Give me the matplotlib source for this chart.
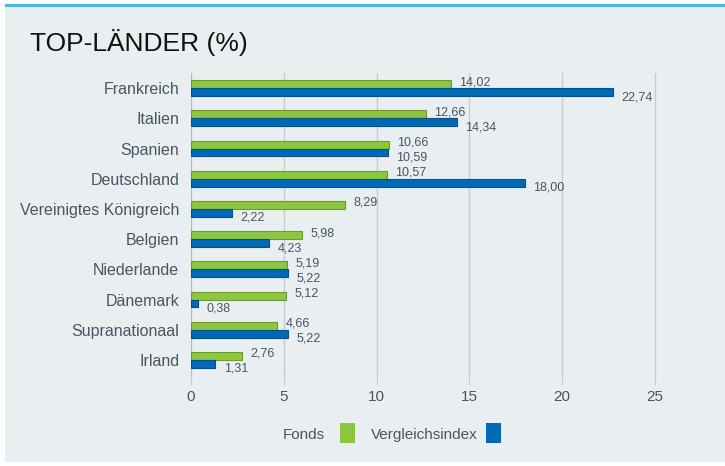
"""
Top-Laender: Fonds vs. Vergleichsindex, horizontal grouped bars
"""
import matplotlib
matplotlib.use('Agg')
import matplotlib.pyplot as plt
from matplotlib.patches import Rectangle
import numpy as np

countries = ['Frankreich', 'Italien', 'Spanien', 'Deutschland', 'Vereinigtes Königreich',
             'Belgien', 'Niederlande', 'Dänemark', 'Supranationaal', 'Irland']
fonds = [14.02, 12.66, 10.66, 10.57, 8.29, 5.98, 5.19, 5.12, 4.66, 2.76]
index = [22.74, 14.34, 10.59, 18.00, 2.22, 4.23, 5.22, 0.38, 5.22, 1.31]
xticks = [0, 5, 10, 15, 20, 25]

plt.rcParams['font.family'] = ['Liberation Sans', 'DejaVu Sans']
txt_col = '#4a5562'
green, green_edge = '#8dc63f', '#6b9b2e'
blue, blue_edge = '#0069b4', '#00508c'

fig = plt.figure(figsize=(7.25, 4.66), dpi=100)
# panel background and top rule
fig.patches.append(Rectangle((5 / 725, 4 / 466), 720 / 725, 455 / 466, transform=fig.transFigure,
                             facecolor='#e9eef1', edgecolor='none', zorder=-10))
fig.patches.append(Rectangle((5 / 725, 1 - 7 / 466), 720 / 725, 2.5 / 466, transform=fig.transFigure,
                             facecolor='#48b7e9', edgecolor='none', zorder=-9))
fig.text(30 / 725, 1 - 42 / 466, 'TOP-LÄNDER (%)', fontsize=19, color='#111111', va='center')

ax = fig.add_axes([191 / 725, 1 - 375 / 466, (692 - 191) / 725, 302 / 466])
ax.set_zorder(2)
ax.set_facecolor('none')
y = np.arange(len(countries))
h = 0.26
ax.barh(y - h / 2, fonds, height=h, color=green, edgecolor=green_edge, linewidth=0.8, zorder=3)
ax.barh(y + h / 2, index, height=h, color=blue, edgecolor=blue_edge, linewidth=0.8, zorder=3)

for yi, f, b in zip(y, fonds, index):
    ax.annotate('{:.2f}'.format(f).replace('.', ','), (f, yi - 0.2), xytext=(6, 0),
                textcoords='offset points', fontsize=9, color=txt_col, va='center', ha='left')
    ax.annotate('{:.2f}'.format(b).replace('.', ','), (b, yi + 0.3), xytext=(6, 0),
                textcoords='offset points', fontsize=9, color=txt_col, va='center', ha='left')

ax.set_xlim(0, 27)
ax.set_ylim(len(countries) - 0.5, -0.5)
ax.set_yticks(y)
ax.set_yticklabels(countries, fontsize=11.5, color=txt_col)
ax.set_xticks(xticks)
ax.set_xticklabels([str(t) for t in xticks], fontsize=11, color=txt_col)
ax.tick_params(axis='y', length=0, pad=8.5)
ax.tick_params(axis='x', length=7.5, color='#c9cccf', pad=3.5)
ax.grid(axis='x', color='#c9cccf', linewidth=1, zorder=0)
for s in ['top', 'right', 'bottom']:
    ax.spines[s].set_visible(False)
ax.spines['left'].set_color('#b5b9bd')

# legend
fig.text(325 / 725, 1 - 435 / 466, 'Fonds', fontsize=11, color=txt_col, ha='right', va='center')
fig.patches.append(Rectangle((340 / 725, 1 - 443 / 466), 15 / 725, 20 / 466, transform=fig.transFigure,
                             facecolor=green, edgecolor='none'))
fig.text(478 / 725, 1 - 435 / 466, 'Vergleichsindex', fontsize=11, color=txt_col, ha='right', va='center')
fig.patches.append(Rectangle((486 / 725, 1 - 443 / 466), 15 / 725, 20 / 466, transform=fig.transFigure,
                             facecolor=blue, edgecolor='none'))

fig.savefig('out.png', dpi=100)
